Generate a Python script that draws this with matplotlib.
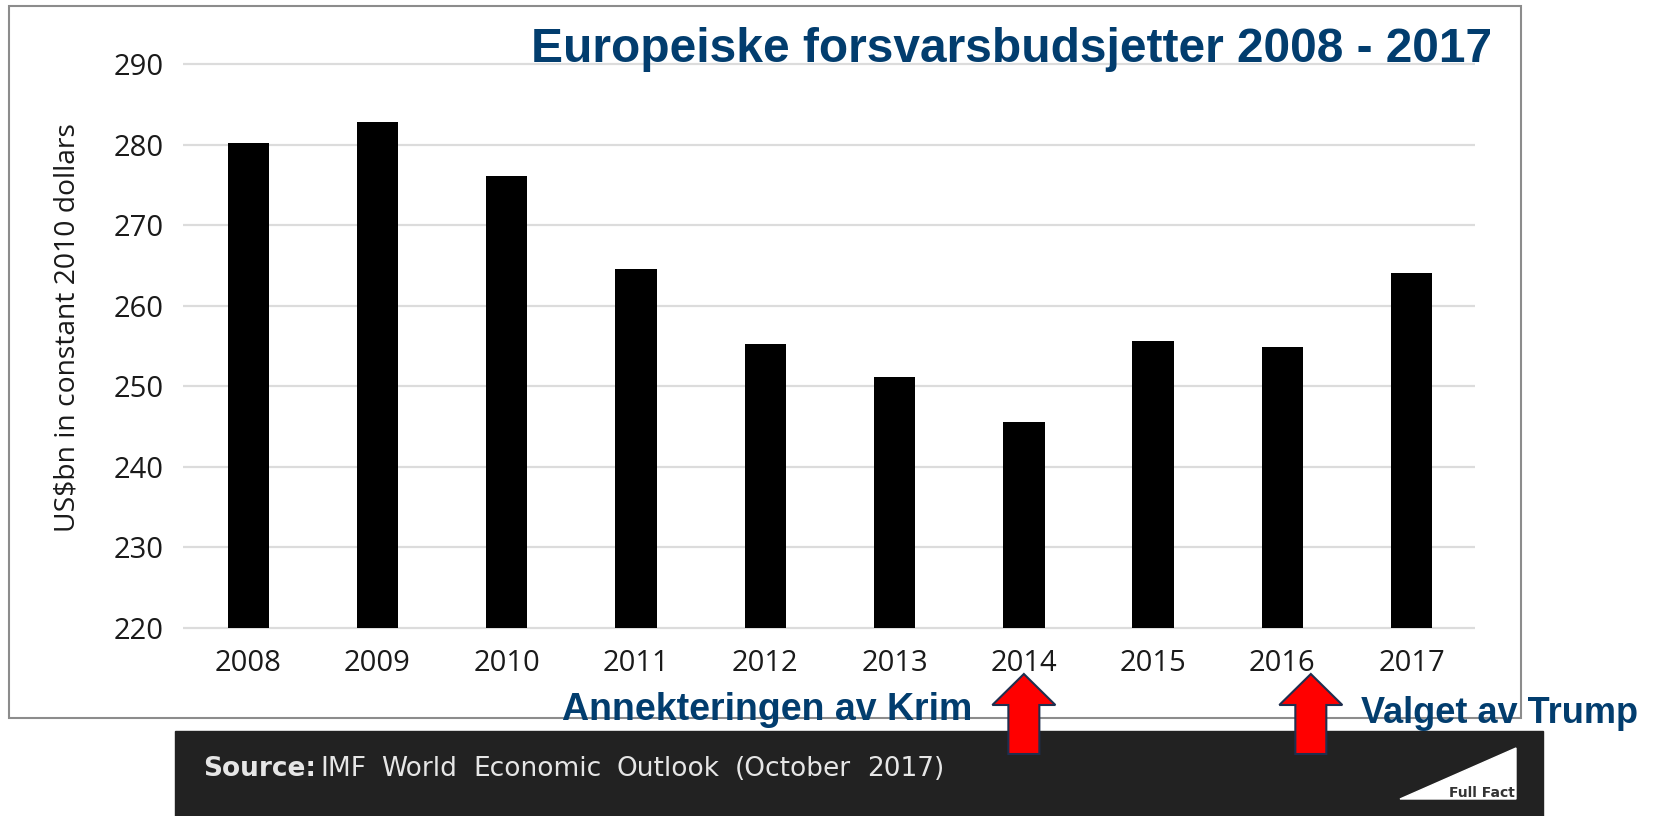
import matplotlib
matplotlib.use("Agg")
import matplotlib.pyplot as plt
from matplotlib.patches import Rectangle, Polygon

# data (US$bn, constant 2010 dollars)
years = ["2008", "2009", "2010", "2011", "2012", "2013", "2014", "2015", "2016", "2017"]
budgets = [280.2, 282.8, 276.1, 264.5, 255.3, 251.2, 245.6, 255.6, 254.9, 264.1]
yticks = [220, 230, 240, 250, 260, 270, 280, 290]
event_years = ["2014", "2016"]
event_labels = ["Annekteringen av Krim", "Valget av Trump"]
source_words = ["IMF", "World", "Economic", "Outlook", "(October", "2017)"]

W, H = 1657, 816
NAVY = "#023d6e"

def fx(x):
    return x / W

def fy(y):
    return 1 - y / H

fig = plt.figure(figsize=(W / 100, H / 100), dpi=100)
renderer = fig.canvas.get_renderer()

# grey frame around the chart
fig.patches.append(Rectangle((fx(9), fy(718)), fx(1521) - fx(9), fy(6) - fy(718),
                             transform=fig.transFigure, fill=False,
                             ec="#8c8c8c", lw=1.5))

# axes: 220 -> y=628px, 290 -> y=64px
ylo, yhi = 219.8, 290.2
def vpix(v):
    return 628 - (v - 220) * 8.057
ax = fig.add_axes([fx(183), fy(vpix(ylo)), fx(1475) - fx(183), fy(vpix(yhi)) - fy(vpix(ylo))])
ax.set_facecolor("none")

x = list(range(len(years)))
ax.bar(x, [b - 220 for b in budgets], bottom=220, width=0.32, color="black", zorder=3)
ax.set_ylim(ylo, yhi)
ax.set_xlim(-0.505, 9.49)
ax.set_yticks(yticks)
ax.set_xticks(x, years)
ax.grid(axis="y", color="#dcdcdc", lw=1.6, zorder=0)
for s in ax.spines.values():
    s.set_visible(False)
ax.tick_params(length=0, labelsize=21, labelcolor="#1a1a1a", pad=14)
for lab in ax.get_xticklabels() + ax.get_yticklabels():
    lab.set_family("Open Sans")

fig.text(fx(68), fy(328), r"US\$bn in constant 2010 dollars", rotation=90,
         ha="center", va="center", fontsize=20.3, family="Open Sans", color="#1a1a1a")

fig.text(fx(1492), fy(62), "Europeiske forsvarsbudsjetter 2008 - 2017",
         ha="right", va="baseline", fontsize=34.5, fontweight="bold", color=NAVY,
         family=["Liberation Sans Narrow", "Liberation Sans"])

# dark source strip
fig.patches.append(Rectangle((fx(175), 0), fx(1543) - fx(175), fy(731),
                             transform=fig.transFigure, color="#222222", zorder=1))
fig.text(fx(203), fy(769), "Source:", ha="left", va="center", fontsize=19,
         fontweight="bold", color="#e6e6e6", family="DejaVu Sans", zorder=2)

# spread the source words over the same width as in the original
words = [fig.text(0, fy(769), w, ha="left", va="center", fontsize=19, color="#e6e6e6",
                  family="DejaVu Sans", zorder=2) for w in source_words]
widths = [t.get_window_extent(renderer).width for t in words]
x0, x1 = 320, 944
gap = (x1 - x0 - sum(widths)) / (len(words) - 1)
cur = x0
for t, wd in zip(words, widths):
    t.set_x(fx(cur))
    cur += wd + gap

# Full Fact logo
fig.patches.append(Polygon([(fx(1400), fy(799)), (fx(1516), fy(748)), (fx(1516), fy(799))],
                           closed=True, transform=fig.transFigure, color="white", zorder=2))
fig.text(fx(1515), fy(800), "Full Fact", ha="right", va="bottom", fontsize=10,
         fontweight="bold", color="#333333", zorder=3)

# event arrows and labels
shifts = [0.0, 0.22]
label_pos = [(562, 720), (1361, 723)]
label_size = [27, 26]
for yr, lab, sh, (lx, ly), fs in zip(event_years, event_labels, shifts, label_pos, label_size):
    xd = years.index(yr) + sh
    xp = ax.transData.transform((xd, 250))[0]
    pts = [(xp, 674), (xp + 31.5, 705), (xp + 15.5, 705), (xp + 15.5, 754),
           (xp - 15.5, 754), (xp - 15.5, 705), (xp - 31.5, 705)]
    fig.patches.append(Polygon([(fx(px), fy(py)) for px, py in pts], closed=True,
                               transform=fig.transFigure, fc="#ff0000", ec="#1f2f4f",
                               lw=1.5, zorder=4))
    fig.text(fx(lx), fy(ly), lab, ha="left", va="baseline", fontsize=fs,
             fontweight="bold", color=NAVY, zorder=5,
             family=["Liberation Sans Narrow", "Liberation Sans"])

fig.savefig("out.png", dpi=100)
